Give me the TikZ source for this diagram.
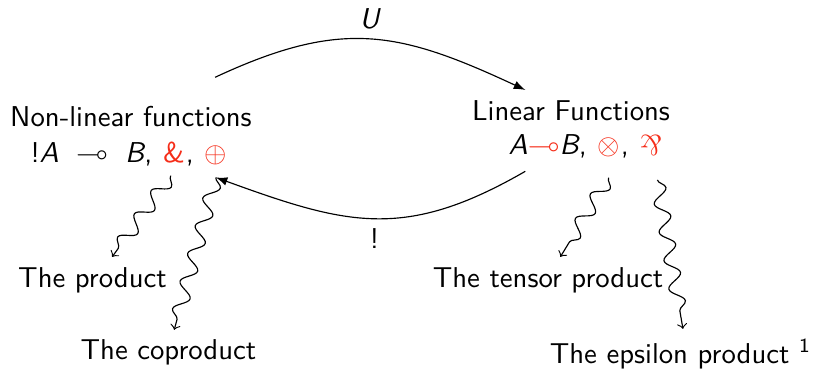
\documentclass[tikz,border=0pt]{standalone}
\usepackage{xcolor}
\usepackage{amsmath}
\usepackage{amssymb}
\usepackage{graphicx}
\usetikzlibrary{decorations.pathmorphing,positioning}
\renewcommand{\familydefault}{\sfdefault}
\definecolor{opred}{RGB}{245,45,25}

\begin{document}
\begin{tikzpicture}[
  head/.style={anchor=base},
  piece/.style={anchor=base west, inner sep=0pt},
  op/.style={anchor=base west, inner xsep=0pt, inner ysep=4pt, text=opred},
  arr/.style={-latex},
  wavy/.style={->, decorate, decoration={snake, post length=1mm}}
]
  \useasboundingbox (0,0) rectangle (10,-4.517);

  \node[head] (nl) at (1.603,-1.548) {Non-linear functions};
  \node[piece] (nlf) at (0.367,-1.995) {!\textit{A}\hspace{.6em}$\multimap$\hspace{.6em}\textit{B},\kern.333em};
  \node[op] (with) at (nlf.base east) {\&};
  \node[piece] (c1) at (with.base east) {,\kern.333em};
  \node[op] (oplus) at (c1.base east) {$\oplus$};

  \node[head] (lf) at (6.989,-1.469) {Linear Functions};
  \node[piece] (lff) at (6.218,-1.897) {\textit{A}\textcolor{opred}{$\multimap$}\textit{B},\kern.333em};
  \node[op] (otimes) at (lff.base east) {$\otimes$};
  \node[piece] (c2) at (otimes.base east) {,\kern.333em};
  \node[op] (parr) at (c2.base east) {\rotatebox[origin=c]{180}{\textrm{\&}}};

  \node[head] (prod)   at (1.132,-3.513) {The product};
  \node[head] (coprod) at (2.062,-4.406) {The coproduct};
  \node[head] (tensor) at (6.708,-3.513) {The tensor product};
  \node[head] (eps)    at (8.329,-4.443) {The epsilon product \textsuperscript{1}};

  \draw[arr] ([xshift=1.03cm,yshift=2.3mm]nl.north) to[out=25,in=155,looseness=1.15]
    node[above] (ulbl) {\textit{U}} ([xshift=-5.6mm]lf.north);
  \draw[arr] ([xshift=-5.6mm,yshift=-5mm]lf.south) to[out=210,in=-20,looseness=1.15]
    node[below] (bang) {!} (oplus.south);

  \draw[wavy] ([xshift=-0.4mm]with.south) -- ([xshift=2.4mm]prod.north);
  \draw[wavy] (oplus.south) -- ([xshift=0.7mm]coprod.north);
  \draw[wavy] ([yshift=-1mm]otimes.south) -- ([xshift=1.5mm]tensor.north);
  \draw[wavy] ([xshift=0.8mm,yshift=-1.5mm]parr.south) -- ([xshift=0.3mm]eps.north);
\end{tikzpicture}
\end{document}
